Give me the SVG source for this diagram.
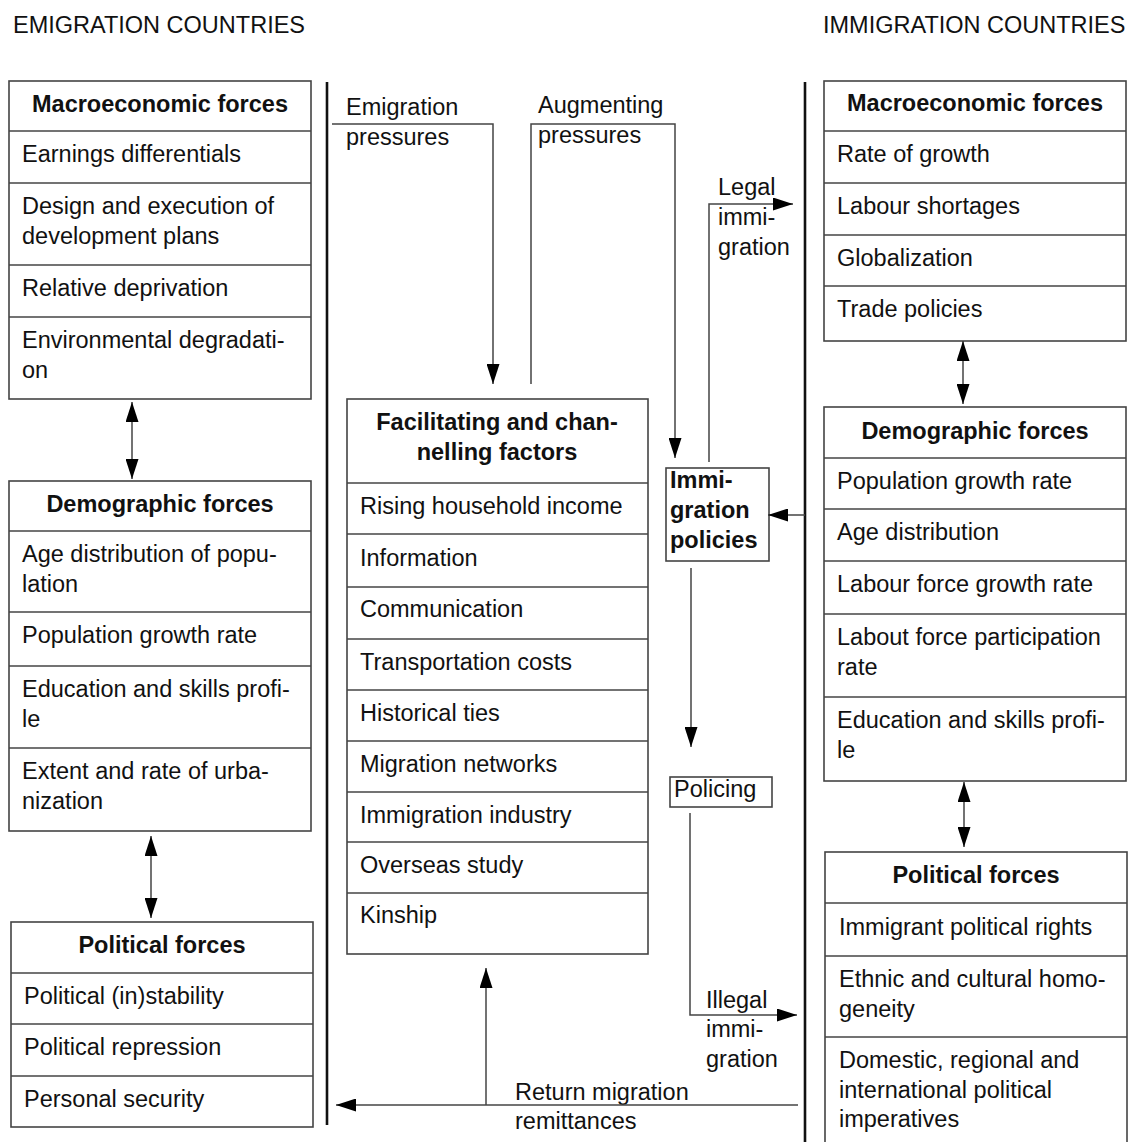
<svg xmlns="http://www.w3.org/2000/svg" width="1131" height="1142" viewBox="0 0 1131 1142">
<style>
  text { font-family: "Liberation Sans", Arial, sans-serif; font-size: 23.5px; fill: #111; }
  .h { font-weight: bold; text-anchor: middle; }
  .b { font-weight: bold; }
  .frame { fill: #fff; stroke: #444; stroke-width: 1.6; }
  .sep { stroke: #444; stroke-width: 1.4; }
  .div { stroke: #111; stroke-width: 2.6; fill: none; }
  .con { stroke: #444; stroke-width: 1.5; fill: none; }
</style>
<defs>
  <marker id="ah" viewBox="0 0 20 13" refX="20" refY="6.5" markerWidth="20" markerHeight="13" markerUnits="userSpaceOnUse" orient="auto-start-reverse">
    <path d="M0,0 L20,6.5 L0,13 z" fill="#000"/>
  </marker>
</defs>

<rect width="1131" height="1142" fill="#fff"/>

<text x="13" y="33">EMIGRATION COUNTRIES</text>
<text x="823" y="33">IMMIGRATION COUNTRIES</text>

<g id="dividers">
  <line class="div" x1="327" y1="82" x2="327" y2="1125"/>
  <line class="div" x1="805" y1="82" x2="805" y2="1142"/>
</g>

<g id="left-macro">
  <rect class="frame" x="9" y="81" width="302" height="318"/>
  <line class="sep" x1="9" y1="131" x2="311" y2="131"/>
  <line class="sep" x1="9" y1="183" x2="311" y2="183"/>
  <line class="sep" x1="9" y1="265" x2="311" y2="265"/>
  <line class="sep" x1="9" y1="317" x2="311" y2="317"/>
  <text class="h" x="160" y="112">Macroeconomic forces</text>
  <text x="22" y="162">Earnings differentials</text>
  <text x="22" y="214">Design and execution of</text>
  <text x="22" y="244">development plans</text>
  <text x="22" y="296">Relative deprivation</text>
  <text x="22" y="348">Environmental degradati-</text>
  <text x="22" y="378">on</text>
</g>

<g id="left-demo">
  <rect class="frame" x="9" y="481" width="302" height="350"/>
  <line class="sep" x1="9" y1="531" x2="311" y2="531"/>
  <line class="sep" x1="9" y1="612" x2="311" y2="612"/>
  <line class="sep" x1="9" y1="666" x2="311" y2="666"/>
  <line class="sep" x1="9" y1="748" x2="311" y2="748"/>
  <text class="h" x="160" y="512">Demographic forces</text>
  <text x="22" y="562">Age distribution of popu-</text>
  <text x="22" y="592">lation</text>
  <text x="22" y="643">Population growth rate</text>
  <text x="22" y="697">Education and skills profi-</text>
  <text x="22" y="727">le</text>
  <text x="22" y="779">Extent and rate of urba-</text>
  <text x="22" y="809">nization</text>
</g>

<g id="left-political">
  <rect class="frame" x="11" y="922" width="302" height="205"/>
  <line class="sep" x1="11" y1="973" x2="313" y2="973"/>
  <line class="sep" x1="11" y1="1024" x2="313" y2="1024"/>
  <line class="sep" x1="11" y1="1076" x2="313" y2="1076"/>
  <text class="h" x="162" y="953">Political forces</text>
  <text x="24" y="1004">Political (in)stability</text>
  <text x="24" y="1055">Political repression</text>
  <text x="24" y="1107">Personal security</text>
</g>

<g id="facilitating">
  <rect class="frame" x="347" y="399" width="301" height="555"/>
  <line class="sep" x1="347" y1="483" x2="648" y2="483"/>
  <line class="sep" x1="347" y1="534" x2="648" y2="534"/>
  <line class="sep" x1="347" y1="587" x2="648" y2="587"/>
  <line class="sep" x1="347" y1="639" x2="648" y2="639"/>
  <line class="sep" x1="347" y1="690" x2="648" y2="690"/>
  <line class="sep" x1="347" y1="741" x2="648" y2="741"/>
  <line class="sep" x1="347" y1="792" x2="648" y2="792"/>
  <line class="sep" x1="347" y1="842" x2="648" y2="842"/>
  <line class="sep" x1="347" y1="893" x2="648" y2="893"/>
  <text class="h" x="497" y="430">Facilitating and chan-</text>
  <text class="h" x="497" y="460">nelling factors</text>
  <text x="360" y="514">Rising household income</text>
  <text x="360" y="566">Information</text>
  <text x="360" y="617">Communication</text>
  <text x="360" y="670">Transportation costs</text>
  <text x="360" y="721">Historical ties</text>
  <text x="360" y="772">Migration networks</text>
  <text x="360" y="823">Immigration industry</text>
  <text x="360" y="873">Overseas study</text>
  <text x="360" y="923">Kinship</text>
</g>

<g id="immigration-policies">
  <rect class="frame" x="666" y="468" width="103" height="93"/>
  <text class="b" x="670" y="488">Immi-</text>
  <text class="b" x="670" y="518">gration</text>
  <text class="b" x="670" y="548">policies</text>
</g>

<g id="policing">
  <rect class="frame" x="670" y="777" width="102" height="30"/>
  <text x="674" y="797">Policing</text>
</g>

<g id="right-macro">
  <rect class="frame" x="824" y="81" width="302" height="260"/>
  <line class="sep" x1="824" y1="131" x2="1126" y2="131"/>
  <line class="sep" x1="824" y1="183" x2="1126" y2="183"/>
  <line class="sep" x1="824" y1="235" x2="1126" y2="235"/>
  <line class="sep" x1="824" y1="286" x2="1126" y2="286"/>
  <text class="h" x="975" y="111">Macroeconomic forces</text>
  <text x="837" y="162">Rate of growth</text>
  <text x="837" y="214">Labour shortages</text>
  <text x="837" y="266">Globalization</text>
  <text x="837" y="317">Trade policies</text>
</g>

<g id="right-demo">
  <rect class="frame" x="824" y="407" width="302" height="374"/>
  <line class="sep" x1="824" y1="458" x2="1126" y2="458"/>
  <line class="sep" x1="824" y1="509" x2="1126" y2="509"/>
  <line class="sep" x1="824" y1="561" x2="1126" y2="561"/>
  <line class="sep" x1="824" y1="614" x2="1126" y2="614"/>
  <line class="sep" x1="824" y1="697" x2="1126" y2="697"/>
  <text class="h" x="975" y="439">Demographic forces</text>
  <text x="837" y="489">Population growth rate</text>
  <text x="837" y="540">Age distribution</text>
  <text x="837" y="592">Labour force growth rate</text>
  <text x="837" y="645">Labout force participation</text>
  <text x="837" y="675">rate</text>
  <text x="837" y="728">Education and skills profi-</text>
  <text x="837" y="758">le</text>
</g>

<g id="right-political">
  <rect class="frame" x="825" y="852" width="302" height="300"/>
  <line class="sep" x1="825" y1="903" x2="1127" y2="903"/>
  <line class="sep" x1="825" y1="956" x2="1127" y2="956"/>
  <line class="sep" x1="825" y1="1037" x2="1127" y2="1037"/>
  <text class="h" x="976" y="883">Political forces</text>
  <text x="839" y="935">Immigrant political rights</text>
  <text x="839" y="987">Ethnic and cultural homo-</text>
  <text x="839" y="1017">geneity</text>
  <text x="839" y="1068">Domestic, regional and</text>
  <text x="839" y="1098">international political</text>
  <text x="839" y="1127">imperatives</text>
</g>

<g id="labels">
  <text x="346" y="115">Emigration</text>
  <text x="346" y="145">pressures</text>
  <text x="538" y="113">Augmenting</text>
  <text x="538" y="143">pressures</text>
  <text x="718" y="195">Legal</text>
  <text x="718" y="225">immi-</text>
  <text x="718" y="255">gration</text>
  <text x="706" y="1008">Illegal</text>
  <text x="706" y="1037">immi-</text>
  <text x="706" y="1067">gration</text>
  <text x="515" y="1100">Return migration</text>
  <text x="515" y="1129">remittances</text>
</g>

<g id="connectors">
  <path class="con" d="M132,402 V479" marker-start="url(#ah)" marker-end="url(#ah)"/>
  <path class="con" d="M151,836 V918" marker-start="url(#ah)" marker-end="url(#ah)"/>
  <path class="con" d="M963,341 V404" marker-start="url(#ah)" marker-end="url(#ah)"/>
  <path class="con" d="M964,782 V847" marker-start="url(#ah)" marker-end="url(#ah)"/>
  <path class="con" d="M332,124 H493 V384" marker-end="url(#ah)"/>
  <path class="con" d="M531,384 V124 H675 V458" marker-end="url(#ah)"/>
  <path class="con" d="M709,462 V204 H793" marker-end="url(#ah)"/>
  <path class="con" d="M805,515 H768" marker-end="url(#ah)"/>
  <path class="con" d="M691,568 V747" marker-end="url(#ah)"/>
  <path class="con" d="M690,813 V1015 H797" marker-end="url(#ah)"/>
  <path class="con" d="M798,1105 H336" marker-end="url(#ah)"/>
  <path class="con" d="M486,1105 V968" marker-end="url(#ah)"/>
</g>
</svg>
